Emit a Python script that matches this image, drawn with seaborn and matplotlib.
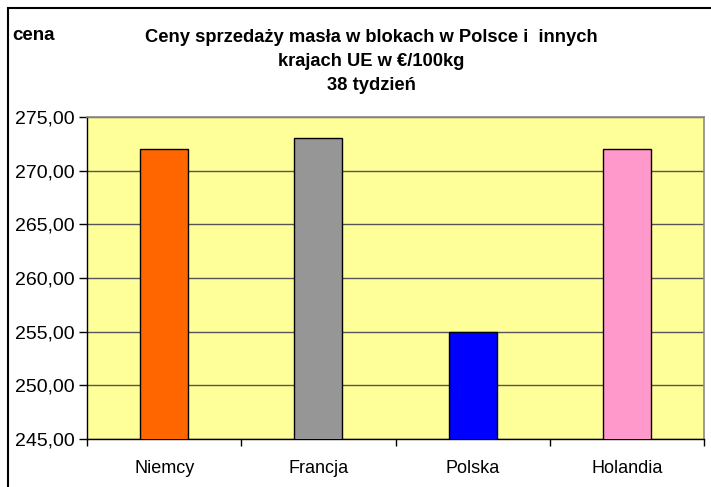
import matplotlib
matplotlib.use("Agg")
import matplotlib.pyplot as plt
import matplotlib.ticker as mticker
from matplotlib.patches import Rectangle
import seaborn as sns
import pandas as pd

kraje = ["Niemcy", "Francja", "Polska", "Holandia"]
ceny = [272.0, 273.0, 255.0, 272.0]
kolory = ["#FF6600", "#969696", "#0000FF", "#FF99CC"]
y_ticks = [245, 250, 255, 260, 265, 270, 275]

df = pd.DataFrame({"kraj": kraje, "cena": ceny})

sns.set_style("white")
plt.rcParams["font.family"] = ["Liberation Sans", "DejaVu Sans"]
plt.rcParams["text.color"] = "black"
plt.rcParams["xtick.color"] = "black"
plt.rcParams["ytick.color"] = "black"

fig = plt.figure(figsize=(7.11, 4.87), dpi=100)
ax = fig.add_axes([87 / 711, 1 - 439 / 487, (704 - 87) / 711, (439 - 117) / 487])
ax.set_facecolor("#FFFF99")

sns.barplot(data=df, x="kraj", y="cena", hue="kraj", palette=kolory,
            width=0.31, saturation=1, edgecolor="black", linewidth=1,
            legend=False, ax=ax, zorder=3)

ax.set_ylim(245, 275)
ax.set_xlim(-0.5, 3.5)
ax.set_yticks(y_ticks)
ax.yaxis.set_major_formatter(mticker.FuncFormatter(lambda v, p: f"{v:.2f}".replace(".", ",")))
ax.yaxis.grid(True, color="#555555", linewidth=1, zorder=1)
ax.set_axisbelow(True)

ax.set_xticks(range(len(kraje)))
ax.set_xticklabels(kraje)
ax.set_xticks([-0.5, 0.5, 1.5, 2.5, 3.5], minor=True)
ax.tick_params(axis="x", which="major", bottom=True, length=0, pad=15,
               labelsize=13, labelcolor="black")
ax.tick_params(axis="x", which="minor", bottom=True, length=5, width=1,
               color="black", direction="out")
ax.tick_params(axis="y", left=True, length=6, width=1, color="black",
               direction="out", labelsize=14, pad=3, labelcolor="black")
ax.set_xlabel("")
ax.set_ylabel("")

for s in ["left", "bottom"]:
    ax.spines[s].set_color("black")
    ax.spines[s].set_linewidth(1)
for s in ["top", "right"]:
    ax.spines[s].set_color("#8a8a8a")
    ax.spines[s].set_linewidth(1.2)

fig.text(371 / 711, 1 - 37 / 487, "Ceny sprzedaży masła w blokach w Polsce i  innych",
         ha="center", va="center", fontsize=13.2, fontweight="bold")
fig.text(371 / 711, 1 - 61 / 487, "krajach UE w €/100kg",
         ha="center", va="center", fontsize=13.2, fontweight="bold")
fig.text(371 / 711, 1 - 85 / 487, "38 tydzień",
         ha="center", va="center", fontsize=13.2, fontweight="bold")
fig.text(12 / 711, 1 - 35 / 487, "cena", ha="left", va="center",
         fontsize=13.5, fontweight="bold")

fig.patches.append(Rectangle((8 / 711, -0.02), 1.0, 1 - 8 / 487 + 0.02,
                             transform=fig.transFigure, fill=False,
                             edgecolor="black", linewidth=1.5))

fig.savefig("out.png", dpi=100)
